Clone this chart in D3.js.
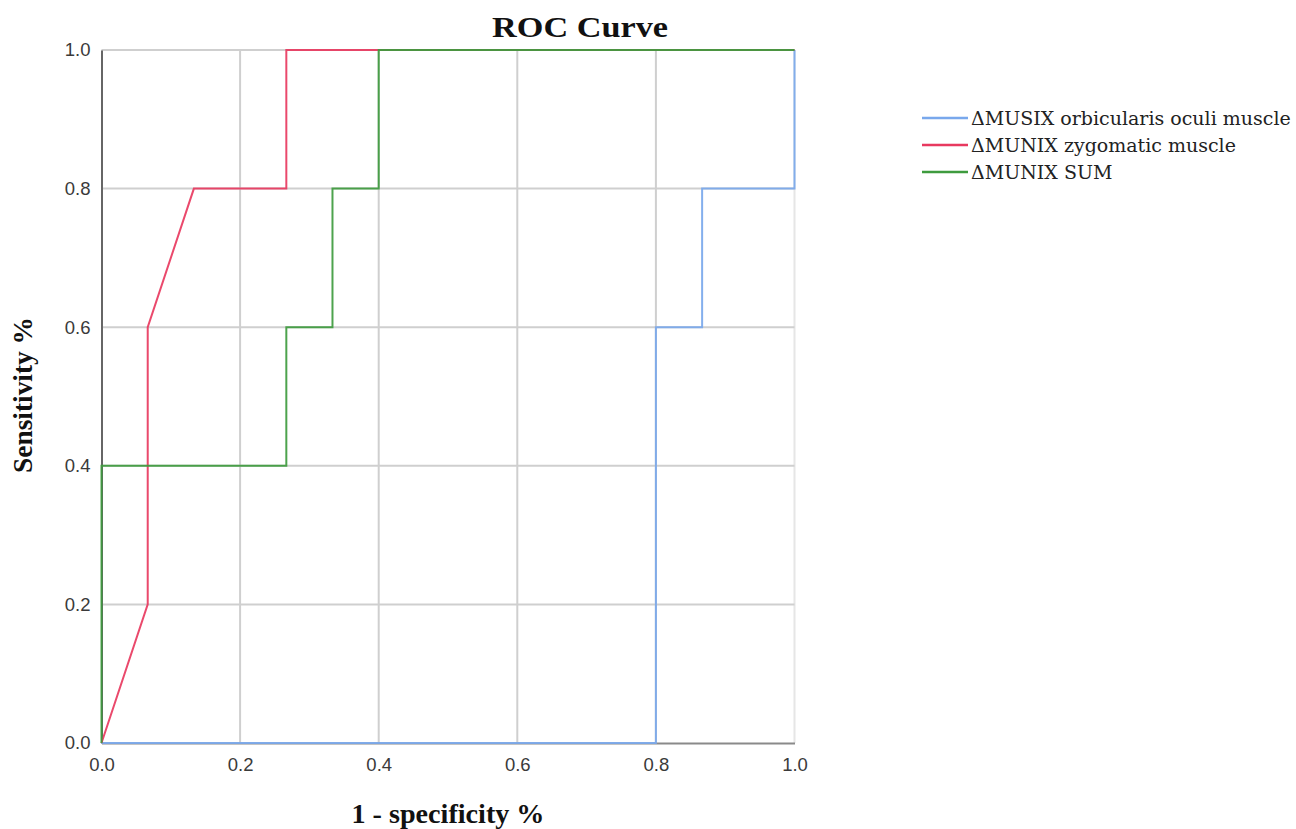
<!DOCTYPE html>
<html><head><meta charset="utf-8">
<script src="https://cdn.jsdelivr.net/npm/d3@7/dist/d3.min.js"></script>
<style>body{margin:0;background:#fff}</style>
</head><body>
<svg id="c" width="1296" height="829"></svg>
<script>
const tickValues = [0.0, 0.2, 0.4, 0.6, 0.8, 1.0];
const seriesNames = ["\u0394MUSIX orbicularis oculi muscle", "\u0394MUNIX zygomatic muscle", "\u0394MUNIX SUM"];
const seriesColors = ["#79A8EC", "#E8395F", "#3E9B3E"];
const orbicularisFPR = [0, 0.8, 0.8, 0.8667, 0.8667, 1.0, 1.0];
const orbicularisTPR = [0, 0, 0.6, 0.6, 0.8, 0.8, 1.0];
const zygomaticFPR = [0, 0.0667, 0.0667, 0.1333, 0.2667, 0.2667, 1.0];
const zygomaticTPR = [0, 0.2, 0.6, 0.8, 0.8, 1.0, 1.0];
const sumFPR = [0, 0, 0.2667, 0.2667, 0.3333, 0.3333, 0.4, 0.4, 1.0];
const sumTPR = [0, 0.4, 0.4, 0.6, 0.6, 0.8, 0.8, 1.0, 1.0];

const series = [
  orbicularisFPR.map((x, i) => [x, orbicularisTPR[i]]),
  zygomaticFPR.map((x, i) => [x, zygomaticTPR[i]]),
  sumFPR.map((x, i) => [x, sumTPR[i]])
];

const svg = d3.select("#c");
const x = d3.scaleLinear().domain([0, 1]).range([101.5, 794.5]);
const y = d3.scaleLinear().domain([0, 1]).range([743, 50]);

// gridlines
svg.append("g").selectAll("line").data(tickValues.slice(1)).join("line")
  .attr("x1", d => x(d)).attr("x2", d => x(d)).attr("y1", y(0)).attr("y2", y(1))
  .attr("stroke", d => d === 1 ? "#e6e6e6" : "#cfcfcf").attr("stroke-width", 2);
svg.append("g").selectAll("line").data(tickValues.slice(1)).join("line")
  .attr("y1", d => y(d)).attr("y2", d => y(d)).attr("x1", x(0)).attr("x2", x(1))
  .attr("stroke", "#cfcfcf").attr("stroke-width", 2);

// axes
const xAxis = svg.append("g").attr("transform", `translate(0,${y(0)})`)
  .call(d3.axisBottom(x).tickValues(tickValues).tickFormat(d3.format(".1f")).tickSize(0).tickPadding(15));
const yAxis = svg.append("g").attr("transform", `translate(${x(0)},0)`)
  .call(d3.axisLeft(y).tickValues(tickValues).tickFormat(d3.format(".1f")).tickSize(0).tickPadding(11));
xAxis.select(".domain").attr("stroke", "#8a8a8a").attr("stroke-width", 2);
yAxis.select(".domain").attr("stroke", "#666").attr("stroke-width", 2);
[xAxis, yAxis].forEach(a => {
  a.attr("font-size", null).attr("font-family", null);
  a.selectAll("text").style("font-family", "'Liberation Sans', Arial, sans-serif")
    .style("font-size", "18.5px").attr("fill", "#3a3a3a");
});

// lines
const line = d3.line().x(d => x(d[0])).y(d => y(d[1]));
svg.append("g").selectAll("path").data(series).join("path")
  .attr("d", line).attr("fill", "none")
  .attr("stroke", (d, i) => seriesColors[i]).attr("stroke-width", 2)
  .attr("stroke-opacity", 0.92);

// title & axis labels
const serif = "'Liberation Serif', 'Times New Roman', serif";
svg.append("text").attr("x", 580).attr("y", 37).attr("text-anchor", "middle")
  .attr("font-family", serif).attr("font-weight", "bold")
  .attr("font-size", 29).attr("fill", "#111")
  .attr("textLength", 176).attr("lengthAdjust", "spacingAndGlyphs").text("ROC Curve");
svg.append("text").attr("x", 448).attr("y", 823).attr("text-anchor", "middle")
  .attr("font-family", serif).attr("font-weight", "bold")
  .attr("font-size", 27).attr("fill", "#111")
  .attr("textLength", 193).attr("lengthAdjust", "spacingAndGlyphs").text("1 - specificity %");
svg.append("text").attr("transform", "translate(32,395) rotate(-90)").attr("text-anchor", "middle")
  .attr("font-family", serif).attr("font-weight", "bold")
  .attr("font-size", 27).attr("fill", "#111")
  .attr("textLength", 156).attr("lengthAdjust", "spacingAndGlyphs").text("Sensitivity %");

// legend
const lg = svg.append("g").selectAll("g").data(seriesNames).join("g")
  .attr("transform", (d, i) => `translate(922,${118 + i * 27})`);
lg.append("line").attr("x1", 0).attr("x2", 46).attr("y1", 0).attr("y2", 0)
  .attr("stroke", (d, i) => seriesColors[i]).attr("stroke-width", 2.5);
lg.append("text").attr("x", 49).attr("y", 7).text(d => d)
  .attr("font-family", "'DejaVu Serif', serif").attr("font-size", 19).attr("fill", "#222");
</script>
</body></html>
